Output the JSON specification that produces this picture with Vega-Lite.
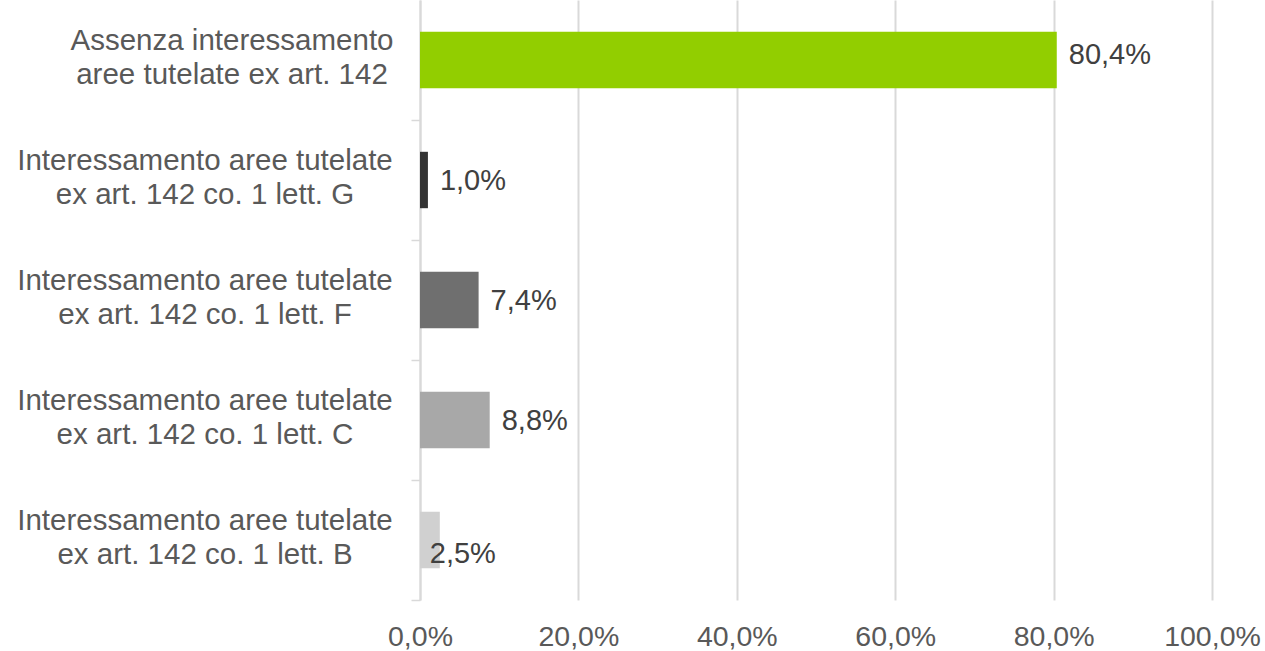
{
  "$schema": "https://vega.github.io/schema/vega-lite/v6.json",
  "width": 792,
  "height": 600,
  "autosize": "none",
  "padding": {"left": 420, "top": 0, "right": 53, "bottom": 51},
  "background": "white",
  "config": {
    "font": "Liberation Sans",
    "view": {"stroke": null},
    "locale": {"number": {"decimal": ",", "thousands": ".", "grouping": [3], "currency": ["€", ""], "percent": "%"}}
  },
  "data": {
    "values": [
      {"cat": "A", "lines": ["Assenza interessamento", "aree tutelate ex art. 142"], "value": 0.804},
      {"cat": "G", "lines": ["Interessamento aree tutelate", "ex art. 142 co. 1 lett. G"], "value": 0.010},
      {"cat": "F", "lines": ["Interessamento aree tutelate", "ex art. 142 co. 1 lett. F"], "value": 0.074},
      {"cat": "C", "lines": ["Interessamento aree tutelate", "ex art. 142 co. 1 lett. C"], "value": 0.088},
      {"cat": "B", "lines": ["Interessamento aree tutelate", "ex art. 142 co. 1 lett. B"], "value": 0.025}
    ]
  },
  "encoding": {
    "y": {
      "field": "cat",
      "type": "nominal",
      "sort": null,
      "scale": {"paddingInner": 0.53, "paddingOuter": 0.265},
      "axis": {
        "title": null,
        "labels": false,
        "tickOffset": 60,
        "tickSize": 9,
        "tickColor": "#d9d9d9",
        "tickWidth": 1.5,
        "domainColor": "#d9d9d9",
        "domainWidth": 2
      }
    },
    "x": {
      "field": "value",
      "type": "quantitative",
      "scale": {"domain": [0, 1], "nice": false},
      "axis": {
        "title": null,
        "values": [0, 0.2, 0.4, 0.6, 0.8, 1],
        "format": ".1%",
        "labelFontSize": 28.5,
        "labelColor": "#595959",
        "labelPadding": 22,
        "ticks": false,
        "domain": false,
        "grid": true,
        "gridColor": "#d9d9d9",
        "gridWidth": 2,
        "labelFlush": false
      }
    }
  },
  "layer": [
    {
      "mark": {"type": "bar"},
      "encoding": {
        "color": {
          "field": "cat",
          "type": "nominal",
          "scale": {"domain": ["A", "G", "F", "C", "B"], "range": ["#92ce00", "#333333", "#6f6f6f", "#a8a8a8", "#d0d0d0"]},
          "legend": null
        }
      }
    },
    {
      "transform": [{"filter": "datum.cat !== 'A'"}],
      "mark": {"type": "text", "align": "center", "baseline": "middle", "dx": -215, "dy": -19, "fontSize": 29.5, "lineHeight": 34, "color": "#595959"},
      "encoding": {"x": {"datum": 0}, "text": {"field": "lines", "type": "nominal"}}
    },
    {
      "transform": [{"filter": "datum.cat === 'A'"}],
      "mark": {"type": "text", "align": "center", "baseline": "middle", "dx": -188, "dy": -19, "fontSize": 29.5, "lineHeight": 34, "color": "#595959"},
      "encoding": {"x": {"datum": 0}, "text": {"field": "lines", "type": "nominal"}}
    },
    {
      "transform": [{"filter": "datum.cat !== 'B' && datum.cat !== 'A'"}],
      "mark": {"type": "text", "align": "left", "baseline": "middle", "dx": 12, "dy": 1, "fontSize": 29, "color": "#404040"},
      "encoding": {"text": {"field": "value", "type": "quantitative", "format": ".1%"}}
    },
    {
      "transform": [{"filter": "datum.cat === 'A'"}],
      "mark": {"type": "text", "align": "left", "baseline": "middle", "dx": 12, "dy": -5, "fontSize": 29, "color": "#404040"},
      "encoding": {"text": {"field": "value", "type": "quantitative", "format": ".1%"}}
    },
    {
      "transform": [{"filter": "datum.cat === 'B'"}],
      "mark": {"type": "text", "align": "left", "baseline": "middle", "dx": -10, "dy": 14, "fontSize": 29, "color": "#404040"},
      "encoding": {"text": {"field": "value", "type": "quantitative", "format": ".1%"}}
    }
  ]
}
